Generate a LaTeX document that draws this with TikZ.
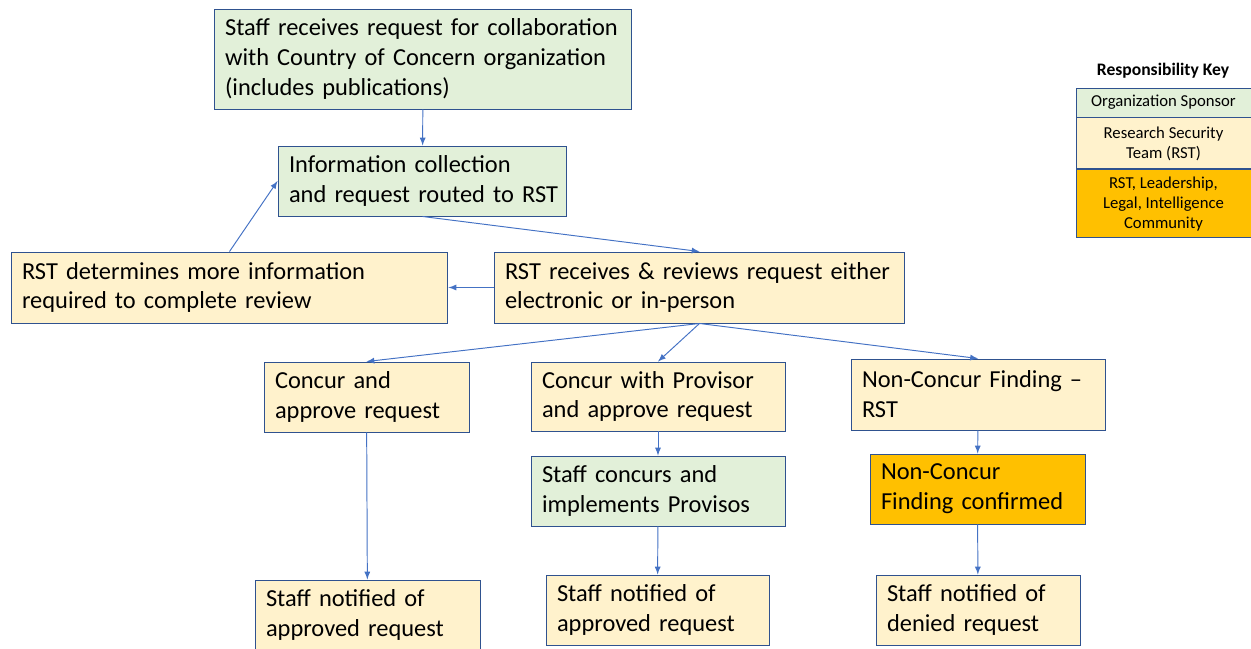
\documentclass[tikz,border=0pt]{standalone}
\usepackage{fontspec}
\setmainfont{Carlito}
\usetikzlibrary{positioning}

\definecolor{boxline}{HTML}{2F528F}
\definecolor{sponsor}{HTML}{E2F0D9}
\definecolor{rstcol}{HTML}{FFF2CC}
\definecolor{leadcol}{HTML}{FFC000}
\definecolor{arrowcol}{HTML}{4472C4}

\begin{document}
\begin{tikzpicture}[> = latex, x = 0.02cm, y = -0.02cm,
	box/.style = {draw = boxline, line width = 0.55pt, align = left, inner xsep = 0.22cm, inner ysep = 0pt,
		font = \fontsize{13.9}{17}\selectfont},
	sponsorbox/.style = {box, fill = sponsor},
	rstbox/.style = {box, fill = rstcol},
	leadbox/.style = {box, fill = leadcol},
	keybox/.style = {draw = boxline, line width = 0.55pt, align = center, minimum width = 3.5cm, inner sep = 0pt,
		font = \fontsize{9.5}{11.4}\selectfont},
	flow/.style = {->, draw = arrowcol, line width = 0.55pt}]

	\useasboundingbox (0, 0) rectangle (1251, 649);

	% Boxes
	
	\node [sponsorbox, text width = 7.92cm, minimum height = 2cm] (req) at (423, 59)
		{Staff receives request for collaboration\\with Country of Concern organization\\(includes publications)};
	\node [sponsorbox, text width = 5.34cm, minimum height = 1.4cm] (collect) at (422.5, 181)
		{Information collection\\\mbox{and request routed to RST}};
	\node [rstbox, text width = 8.3cm, minimum height = 1.42cm] (moreinfo) at (229.5, 287.5)
		{RST determines more information\\required to complete review};
	\node [rstbox, text width = 7.78cm, minimum height = 1.42cm] (review) at (699.5, 287.5)
		{RST receives \& reviews request either\\electronic or in-person};
	\node [rstbox, text width = 3.66cm, minimum height = 1.4cm] (concur) at (366.5, 397)
		{Concur and\\approve request};
	\node [rstbox, text width = 4.64cm, minimum height = 1.38cm] (proviso) at (658, 396.5)
		{Concur with Provisor\\and approve request};
	\node [rstbox, text width = 4.64cm, minimum height = 1.42cm] (nonconcur) at (978, 394.5)
		{Non-Concur Finding --\\RST};
	\node [sponsorbox, text width = 4.64cm, minimum height = 1.4cm] (implement) at (658, 491)
		{Staff concurs and\\implements Provisos};
	\node [leadbox, text width = 3.86cm, minimum height = 1.4cm] (confirmed) at (977.5, 489)
		{Non-Concur\\Finding confirmed};
	\node [rstbox, text width = 4.06cm, minimum height = 1.4cm] (approvedA) at (367.5, 615)
		{Staff notified of\\approved request};
	\node [rstbox, text width = 4.02cm, minimum height = 1.4cm] (approvedB) at (657.5, 610)
		{Staff notified of\\approved request};
	\node [rstbox, text width = 3.64cm, minimum height = 1.4cm] (denied) at (978, 610)
		{Staff notified of\\denied request};

	% Arrows
	
	\draw [flow] (req) -- (collect);
	\draw [flow] (collect.south) -- (review.north);
	\draw [flow] (review) -- (moreinfo);
	\draw [flow] (moreinfo.north) -- (collect.west);
	\foreach \n in {concur, proviso, nonconcur}
		\draw [flow] (review.south) -- (\n.north);
	\draw [flow] (concur) -- (approvedA);
	\draw [flow] (proviso) -- (implement);
	\draw [flow] (implement) -- (approvedB);
	\draw [flow] (nonconcur) -- (confirmed);
	\draw [flow] (confirmed) -- (denied);

	% Responsibility key
	
	\node [font = \fontsize{10}{12}\selectfont\bfseries] (keytitle) at (1163, 71) {Responsibility Key};
	\node [keybox, fill = sponsor, minimum height = 0.58cm] (keysponsor) at (1163.5, 102.5) {Organization Sponsor};
	\node [keybox, fill = rstcol, minimum height = 1.02cm, below = 0pt of keysponsor] (keyrst)
		{Research Security\\Team (RST)};
	\node [keybox, fill = leadcol, minimum height = 1.36cm, below = 0pt of keyrst] (keylead)
		{RST, Leadership,\\Legal, Intelligence\\Community};

\end{tikzpicture}
\end{document}
